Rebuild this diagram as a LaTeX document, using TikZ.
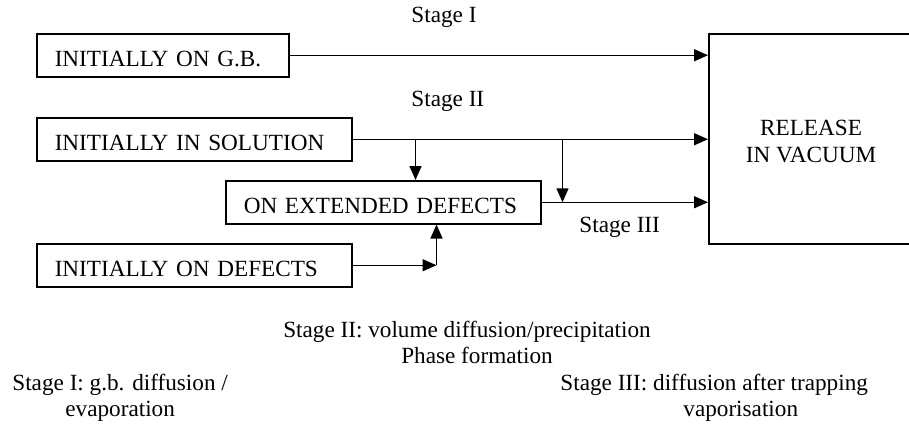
\documentclass[tikz,border=0pt]{standalone}
\usepackage{fontspec}
\setmainfont{Liberation Serif}
\usetikzlibrary{arrows.meta,calc}
\begin{document}
\begin{tikzpicture}[x=0.5pt,y=-0.5pt,
  every node/.style={font=\fontsize{11.6pt}{13.5pt}\selectfont},
  box/.style={draw, line width=0.75pt, rectangle, anchor=north west,
    inner xsep=9pt, inner ysep=0pt, text height=16.5pt, text depth=5pt, align=left},
  bigbox/.style={draw, line width=0.75pt, rectangle, anchor=north west,
    minimum width=112pt, minimum height=105pt, inner sep=0pt, align=center},
  lbl/.style={inner sep=0pt, anchor=base west},
  lblc/.style={inner sep=0pt, anchor=base},
  conn/.style={line width=0.75pt, -{Triangle[length=7pt,width=6pt]}}]
\useasboundingbox (0,0) rectangle (909,423);
\clip (0,0) rectangle (909,423);

% boxes
\node[box, text width=108pt]   (gb)  at (36,33)  {INITIALLY ON G.B.};
\node[box, text width=139.5pt] (sol) at (36,117) {INITIALLY IN SOLUTION};
\node[box, text width=139.5pt] (ext) at (225,180) {ON EXTENDED DEFECTS};
\node[box, text width=139.5pt] (def) at (36,243) {INITIALLY ON DEFECTS};
\node[bigbox] (rel) at (708,33) {};
\node[inner sep=0pt, align=center] (reltext) at (811,141) {RELEASE\\IN VACUUM};

% connectors
\coordinate (s1) at ($(sol.east)+(63,0)$);
\coordinate (s2) at ($(sol.east)+(210,0)$);
\coordinate (d1) at ($(def.east)+(84,0)$);
\draw[conn] (gb.east) -- (gb.east -| rel.west);
\draw[conn] (sol.east) -- (sol.east -| rel.west);
\draw[conn] (s1) -- (s1 |- ext.north);
\draw[conn] (s2) -- (s2 |- ext.east);
\draw[conn] (ext.east) -- (ext.east -| rel.west);
\draw[conn] (def.east) -- (d1);
\draw[conn] (d1) -- (d1 |- ext.south);

% stage labels
\node[lbl] (st1) at (411,22) {Stage I};
\node[lbl] (st2) at (411,106) {Stage II};
\node[lbl] (st3) at (579,232) {Stage III};

% legend
\node[lblc] (lg2a) at (467,337) {Stage II: volume diffusion/precipitation};
\node[lblc] (lg2b) at (477,363) {Phase formation};
\node[lbl]  (lg1a) at (12,390)  {Stage I: g.b. diffusion /};
\node[lbl]  (lg1b) at (65,416)  {evaporation};
\node[lbl]  (lg3a) at (560,390) {Stage III: diffusion after trapping};
\node[lbl]  (lg3b) at (683,416) {vaporisation};
\end{tikzpicture}
\end{document}
